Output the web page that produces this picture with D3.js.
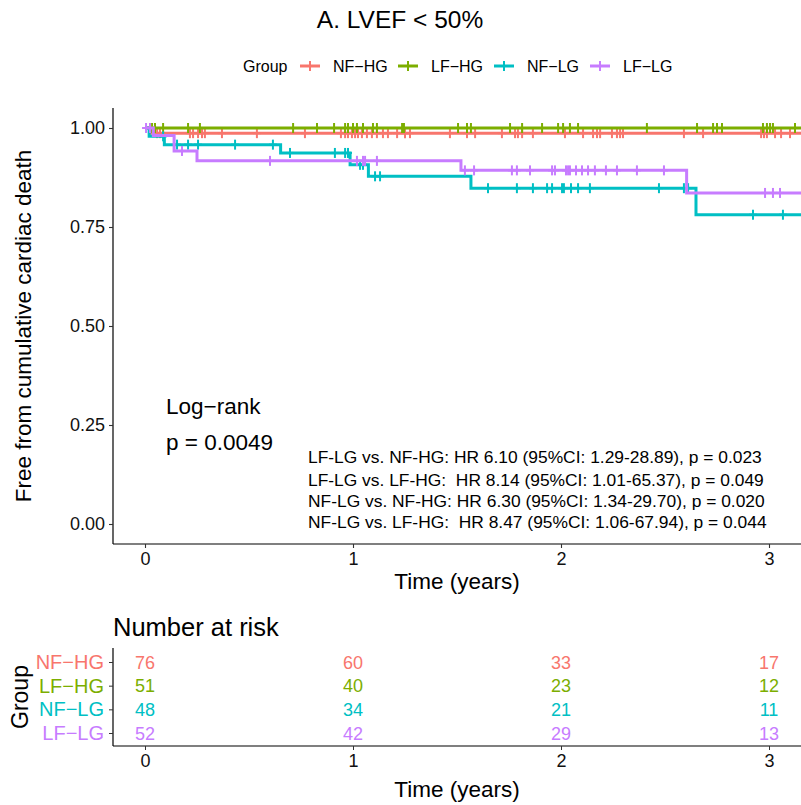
<!DOCTYPE html>
<html><head><meta charset="utf-8">
<script src="https://cdn.jsdelivr.net/npm/d3@7"></script>
<style>
body{margin:0;background:#fff;}
text{font-family:"Liberation Sans",Arial,sans-serif;}
</style></head>
<body><svg id="chart" width="801" height="805"></svg>
<script>
// ---------- data ----------
const groups = ["NF−HG","LF−HG","NF−LG","LF−LG"];
const colors = ["#F8766D","#7CAE00","#00BFC4","#C77CFF"];

// Kaplan-Meier steps (time in years, survival)
const nfhgTime = [0, 0.03, 3.25];
const nfhgSurv = [1, 0.987, 0.987];
const lfhgTime = [0, 3.25];
const lfhgSurv = [1, 1];
const nflgTime = [0, 0.02, 0.093, 0.652, 0.986, 1.074, 1.567, 2.649, 3.25];
const nflgSurv = [1, 0.979, 0.958, 0.937, 0.907, 0.878, 0.848, 0.781, 0.781];
const lflgTime = [0, 0.04, 0.14, 0.25, 1.519, 2.604, 3.25];
const lflgSurv = [1, 0.981, 0.942, 0.917, 0.893, 0.836, 0.836];

// censoring times
const nfhgCens = [0.058,0.072,0.216,0.231,0.255,0.274,0.288,0.370,0.538,0.769,0.942,0.962,0.976,0.995,1.010,1.024,1.043,1.067,1.091,1.115,1.144,1.168,1.212,1.250,1.274,1.466,1.548,1.587,1.716,1.779,1.793,1.813,1.865,2.019,2.106,2.154,2.173,2.188,2.245,2.269,2.284,2.298,2.591,2.683,2.962,2.976,2.990,3.029,3.058,3.101];
const lfhgCens = [0.034,0.048,0.087,0.207,0.264,0.712,0.827,0.909,0.962,0.976,1.000,1.019,1.048,1.096,1.115,1.236,1.245,1.505,1.548,1.567,1.755,1.813,1.909,1.986,2.010,2.043,2.082,2.413,2.654,2.731,2.750,2.774,2.971,2.990,3.005,3.019,3.125];
const nflgCens = [0.087,0.154,0.207,0.255,0.433,0.615,0.697,0.913,0.962,0.976,1.034,1.048,1.106,1.130,1.649,1.788,1.865,1.933,1.957,2.005,2.014,2.048,2.082,2.139,2.471,2.591,2.611,2.923,3.067];
const lflgCens = [0.005,0.024,0.178,0.601,1.019,1.048,1.058,1.115,1.538,1.582,1.764,1.788,1.851,1.957,1.971,2.024,2.034,2.043,2.072,2.101,2.130,2.163,2.216,2.269,2.365,2.495,2.981,3.019,3.053];

// number at risk
const riskTimes = [0, 1, 2, 3];
const nfhgRisk = [76, 60, 33, 17];
const lfhgRisk = [51, 40, 23, 12];
const nflgRisk = [48, 34, 21, 11];
const lflgRisk = [52, 42, 29, 13];

const xTicks = [0, 1, 2, 3];
const yTicks = [0, 0.25, 0.5, 0.75, 1];

const titleText = "A. LVEF < 50%";
const hrLines = [
  "LF-LG vs. NF-HG: HR 6.10 (95%CI: 1.29-28.89), p = 0.023",
  "LF-LG vs. LF-HG:  HR 8.14 (95%CI: 1.01-65.37), p = 0.049",
  "NF-LG vs. NF-HG: HR 6.30 (95%CI: 1.34-29.70), p = 0.020",
  "NF-LG vs. LF-HG:  HR 8.47 (95%CI: 1.06-67.94), p = 0.044"
];

const series = [
  {t:nfhgTime, s:nfhgSurv, c:nfhgCens, r:nfhgRisk},
  {t:lfhgTime, s:lfhgSurv, c:lfhgCens, r:lfhgRisk},
  {t:nflgTime, s:nflgSurv, c:nflgCens, r:nflgRisk},
  {t:lflgTime, s:lflgSurv, c:lflgCens, r:lflgRisk}
];

// ---------- layout ----------
(function(){
const svg = d3.select("#chart");
const pL = 113, pR = 801, pT = 108, pB = 544;
const x = d3.scaleLinear().domain([0, 3]).range([145, 769]);
const y = d3.scaleLinear().domain([0, 1]).range([524, 128]);
const FF = "Liberation Sans, Arial, sans-serif";

svg.append("text").attr("x", 400).attr("y", 28).attr("text-anchor","middle")
  .attr("font-size", 24.5).text(titleText);

// legend
const lg = svg.append("g").attr("font-size", 16);
lg.append("text").attr("x", 243).attr("y", 72).text("Group");
const legX = [300, 398, 494, 590];
groups.forEach((g,i)=>{
  const gx = legX[i];
  lg.append("line").attr("x1",gx).attr("x2",gx+20).attr("y1",66).attr("y2",66)
    .attr("stroke",colors[i]).attr("stroke-width",3);
  lg.append("line").attr("x1",gx+10).attr("x2",gx+10).attr("y1",61).attr("y2",71)
    .attr("stroke",colors[i]).attr("stroke-width",2);
  lg.append("text").attr("x",gx+33).attr("y",72).text(g);
});

// clip
svg.append("defs").append("clipPath").attr("id","clip")
  .append("rect").attr("x",pL).attr("y",pT-10).attr("width",pR-pL+20).attr("height",pB-pT+10);

const plot = svg.append("g").attr("clip-path","url(#clip)");
const line = d3.line().x(d=>x(d[0])).y(d=>y(d[1])).curve(d3.curveStepAfter);

function survAt(sr, t){
  let v = sr.s[0];
  for(let k=0;k<sr.t.length;k++){ if(sr.t[k] <= t) v = sr.s[k]; }
  return v;
}

series.forEach((sr,i)=>{
  const pts = sr.t.map((t,k)=>[t, sr.s[k]]);
  plot.append("path").attr("d", line(pts)).attr("fill","none")
    .attr("stroke", colors[i]).attr("stroke-width", 3);
  const cg = plot.append("g").attr("stroke", colors[i]).attr("stroke-width", 2);
  sr.c.forEach(t=>{
    const cx = x(t), cy = y(survAt(sr, t));
    cg.append("line").attr("x1",cx).attr("x2",cx).attr("y1",cy-5).attr("y2",cy+5);
    cg.append("line").attr("x1",cx-4).attr("x2",cx+4).attr("y1",cy).attr("y2",cy);
  });
});

// axes
const axCol = "#000";
svg.append("line").attr("x1",pL).attr("x2",pL).attr("y1",pT).attr("y2",pB)
  .attr("stroke",axCol).attr("stroke-width",1.2);
svg.append("line").attr("x1",pL).attr("x2",pR).attr("y1",pB).attr("y2",pB)
  .attr("stroke",axCol).attr("stroke-width",1.2);

const yAxis = svg.append("g").attr("transform",`translate(${pL},0)`)
  .call(d3.axisLeft(y).tickValues(yTicks).tickFormat(d3.format(".2f")).tickSize(4).tickPadding(4));
const xAxis = svg.append("g").attr("transform",`translate(0,${pB})`)
  .call(d3.axisBottom(x).tickValues(xTicks).tickFormat(d3.format("d")).tickSize(4).tickPadding(4));
[yAxis, xAxis].forEach(a=>{
  a.select(".domain").remove();
  a.selectAll("line").attr("stroke","#333").attr("stroke-width",1.1);
  a.selectAll("text").attr("font-size",18).attr("fill","#111").attr("font-family",FF);
});

svg.append("text").attr("x", 457).attr("y", 589).attr("text-anchor","middle")
  .attr("font-size", 22.5).text("Time (years)");
svg.append("text").attr("transform","translate(31,326) rotate(-90)").attr("text-anchor","middle")
  .attr("font-size", 22.5).text("Free from cumulative cardiac death");

svg.append("text").attr("x",166).attr("y",414).attr("font-size",22.5).text("Log−rank");
svg.append("text").attr("x",166).attr("y",450).attr("font-size",22.5).text("p = 0.0049");

const hrY = [463, 486, 507, 528];
hrLines.forEach((t,i)=>{
  svg.append("text").attr("x",308).attr("y",hrY[i]).attr("font-size",17.4)
    .style("white-space","pre").text(t);
});

// ---------- risk table ----------
const tTop = 648, tBottom = 746;
svg.append("text").attr("x",113).attr("y",636).attr("font-size",25.5).text("Number at risk");
const rowY = d3.scalePoint().domain(groups).range([662, 733]);
svg.append("line").attr("x1",pL).attr("x2",pL).attr("y1",tTop).attr("y2",tBottom)
  .attr("stroke",axCol).attr("stroke-width",1.2);
svg.append("line").attr("x1",pL).attr("x2",pR).attr("y1",tBottom).attr("y2",tBottom)
  .attr("stroke",axCol).attr("stroke-width",1.2);

const ryAxis = svg.append("g").attr("transform",`translate(${pL},0)`)
  .call(d3.axisLeft(rowY).tickSize(4).tickPadding(5));
ryAxis.select(".domain").remove();
ryAxis.selectAll("line").attr("stroke","#333");
ryAxis.selectAll("text").attr("font-size",20).attr("font-family",FF)
  .attr("fill",(d,i)=>colors[i]);

const rxAxis = svg.append("g").attr("transform",`translate(0,${tBottom})`)
  .call(d3.axisBottom(x).tickValues(xTicks).tickFormat(d3.format("d")).tickSize(4).tickPadding(4));
rxAxis.select(".domain").remove();
rxAxis.selectAll("line").attr("stroke","#333");
rxAxis.selectAll("text").attr("font-size",18).attr("fill","#111").attr("font-family",FF);

series.forEach((sr,i)=>{
  sr.r.forEach((n,k)=>{
    svg.append("text").attr("x",x(riskTimes[k])).attr("y",rowY(groups[i])+6.5)
      .attr("text-anchor","middle").attr("font-size",18).attr("fill",colors[i]).text(n);
  });
});

svg.append("text").attr("x", 457).attr("y", 797).attr("text-anchor","middle")
  .attr("font-size", 22.5).text("Time (years)");
svg.append("text").attr("transform","translate(28,697) rotate(-90)").attr("text-anchor","middle")
  .attr("font-size", 23).text("Group");
})();
</script></body></html>
